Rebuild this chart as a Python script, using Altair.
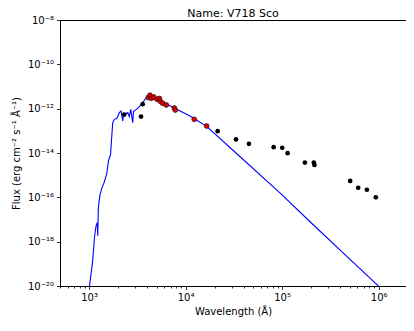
import altair as alt
import pandas as pd

# Model spectrum (wavelength in Angstrom, flux in erg cm^-2 s^-1 A^-1)
spec_wave = [990, 1087, 1113, 1140, 1182, 1216, 1230, 1248, 1269, 1300, 1363, 1430, 1525, 1592, 1670,
             1710, 1759, 1828, 1935, 2059, 2145, 2234, 2276, 2359, 2515, 2614, 2702, 2834, 2888, 2943,
             3238, 3512, 3799, 4111, 4280, 4489, 4823, 5877, 8088, 11100, 16540, 30950, 94900, 209900,
             465000, 1012000, 1159000]
spec_flux = [5e-21, 1.23e-19, 4.3e-19, 1.66e-18, 5.2e-18, 7.1e-18, 1.84e-18, 3.4e-17, 6.4e-17, 1.32e-16,
             2.74e-16, 4.6e-16, 1.18e-15, 4.6e-15, 8.6e-15, 4.1e-14, 2.34e-13, 3.3e-13, 3.55e-13, 6.6e-13,
             7.8e-13, 2.76e-13, 6.2e-13, 5.6e-13, 6.6e-13, 4.4e-13, 9.4e-13, 2.34e-13, 7.6e-13, 7.8e-13,
             1.12e-12, 1.57e-12, 2.65e-12, 4.0e-12, 4.5e-12, 3.44e-12, 2.94e-12, 1.88e-12, 9.4e-13, 4.66e-13,
             1.59e-13, 1.33e-14, 1.58e-16, 5.8e-18, 2.21e-19, 9.3e-21, 5.3e-21]

# Observed photometry (black)
phot_wave = [2317, 3452, 3594, 21480, 33270, 45300, 81700, 100200, 114000, 172000, 213000, 216000,
             507000, 614000, 755000, 935000]
phot_flux = [5.4e-13, 4.4e-13, 1.6e-12, 9.7e-14, 4.1e-14, 2.6e-14, 1.84e-14, 1.72e-14, 9.8e-15, 3.7e-15,
             3.7e-15, 2.9e-15, 5.5e-16, 2.7e-16, 2.2e-16, 1.0e-16]

# Fitted photometry (red)
fit_wave = [4111, 4276, 4413, 4673, 5058, 5343, 5470, 5790, 6313, 7637, 7820, 12300, 16520]
fit_flux = [3.17e-12, 4.03e-12, 2.94e-12, 3.37e-12, 2.65e-12, 2.86e-12, 2.15e-12, 1.75e-12, 1.47e-12,
            1.07e-12, 8.7e-13, 3.3e-13, 1.64e-13]

# Axis ticks
x_major = [1000, 10000, 100000, 1000000]
x_labels = ["10³", "10⁴", "10⁵", "10⁶"]
y_exps = [-8, -10, -12, -14, -16, -18, -20]
y_labels = ["10⁻⁸", "10⁻¹⁰", "10⁻¹²", "10⁻¹⁴", "10⁻¹⁶", "10⁻¹⁸", "10⁻²⁰"]

x_domain = [500, 1.92e6]
y_domain = [1e-20, 1e-8]

x_ticks = []
for e in range(2, 7):
    for m in range(1, 10):
        v = m * 10 ** e
        if x_domain[0] <= v <= x_domain[1]:
            x_ticks.append(float(v))

x_expr = " : ".join(f"datum.value == {v} ? '{l}'" for v, l in zip(x_major, x_labels)) + " : ''"
y_expr = " : ".join(f"round(log(datum.value)/LN10) == {e} ? '{l}'" for e, l in zip(y_exps, y_labels)) + " : ''"
major_test = "indexof([" + ",".join(str(v) for v in x_major) + "], datum.value) >= 0"

spec_df = pd.DataFrame({"wave": spec_wave, "flux": spec_flux, "i": range(len(spec_wave))})
phot_df = pd.DataFrame({"wave": phot_wave, "flux": phot_flux})
fit_df = pd.DataFrame({"wave": fit_wave, "flux": fit_flux})

xscale = alt.Scale(type="log", domain=x_domain, nice=False)
yscale = alt.Scale(type="log", domain=y_domain, nice=False)

xaxis = alt.Axis(title="Wavelength (Å)", values=x_ticks, labelExpr=x_expr,
                 tickSize={"condition": {"test": major_test, "value": 3.5}, "value": 2},
                 grid=False, labelFlush=False, labelOverlap=False, titlePadding=4)
yaxis = alt.Axis(title="Flux (erg cm⁻² s⁻¹ Å⁻¹)", values=[10.0 ** e for e in y_exps],
                 labelExpr=y_expr, tickSize=3.5, grid=False, labelFlush=False,
                 labelOverlap=False, titlePadding=6)

line = alt.Chart(spec_df).mark_line(color="#0000ff", strokeWidth=1.1, clip=True).encode(
    x=alt.X("wave:Q", scale=xscale, axis=xaxis),
    y=alt.Y("flux:Q", scale=yscale, axis=yaxis),
    order="i:Q",
)

phot = alt.Chart(phot_df).mark_circle(color="black", size=22, opacity=1, clip=True).encode(
    x=alt.X("wave:Q", scale=xscale),
    y=alt.Y("flux:Q", scale=yscale),
)

fit = alt.Chart(fit_df).mark_point(filled=True, fill="#e00000", stroke="black", strokeWidth=0.6,
                                   size=24, opacity=1, shape="circle", clip=True).encode(
    x=alt.X("wave:Q", scale=xscale),
    y=alt.Y("flux:Q", scale=yscale),
)

chart = alt.layer(line, phot, fit).properties(
    width=346, height=266,
    title=alt.TitleParams("Name: V718 Sco", fontSize=11, font="DejaVu Sans", fontWeight="normal",
                          color="black", offset=0, dy=3.5, frame="group"),
    autosize=alt.AutoSizeParams(type="none"),
    padding={"left": 52, "top": 12, "right": 0, "bottom": 37},
).configure_view(stroke="black", strokeWidth=1).configure_axis(
    domainColor="black", tickColor="black", labelColor="black", titleColor="black",
    labelFont="DejaVu Sans", titleFont="DejaVu Sans", labelFontSize=10, titleFontSize=10,
    titleFontWeight="normal", tickWidth=0.8, domainWidth=1, labelPadding=3,
)

chart.save("out.html", embed_options={"renderer": "svg", "actions": False})
